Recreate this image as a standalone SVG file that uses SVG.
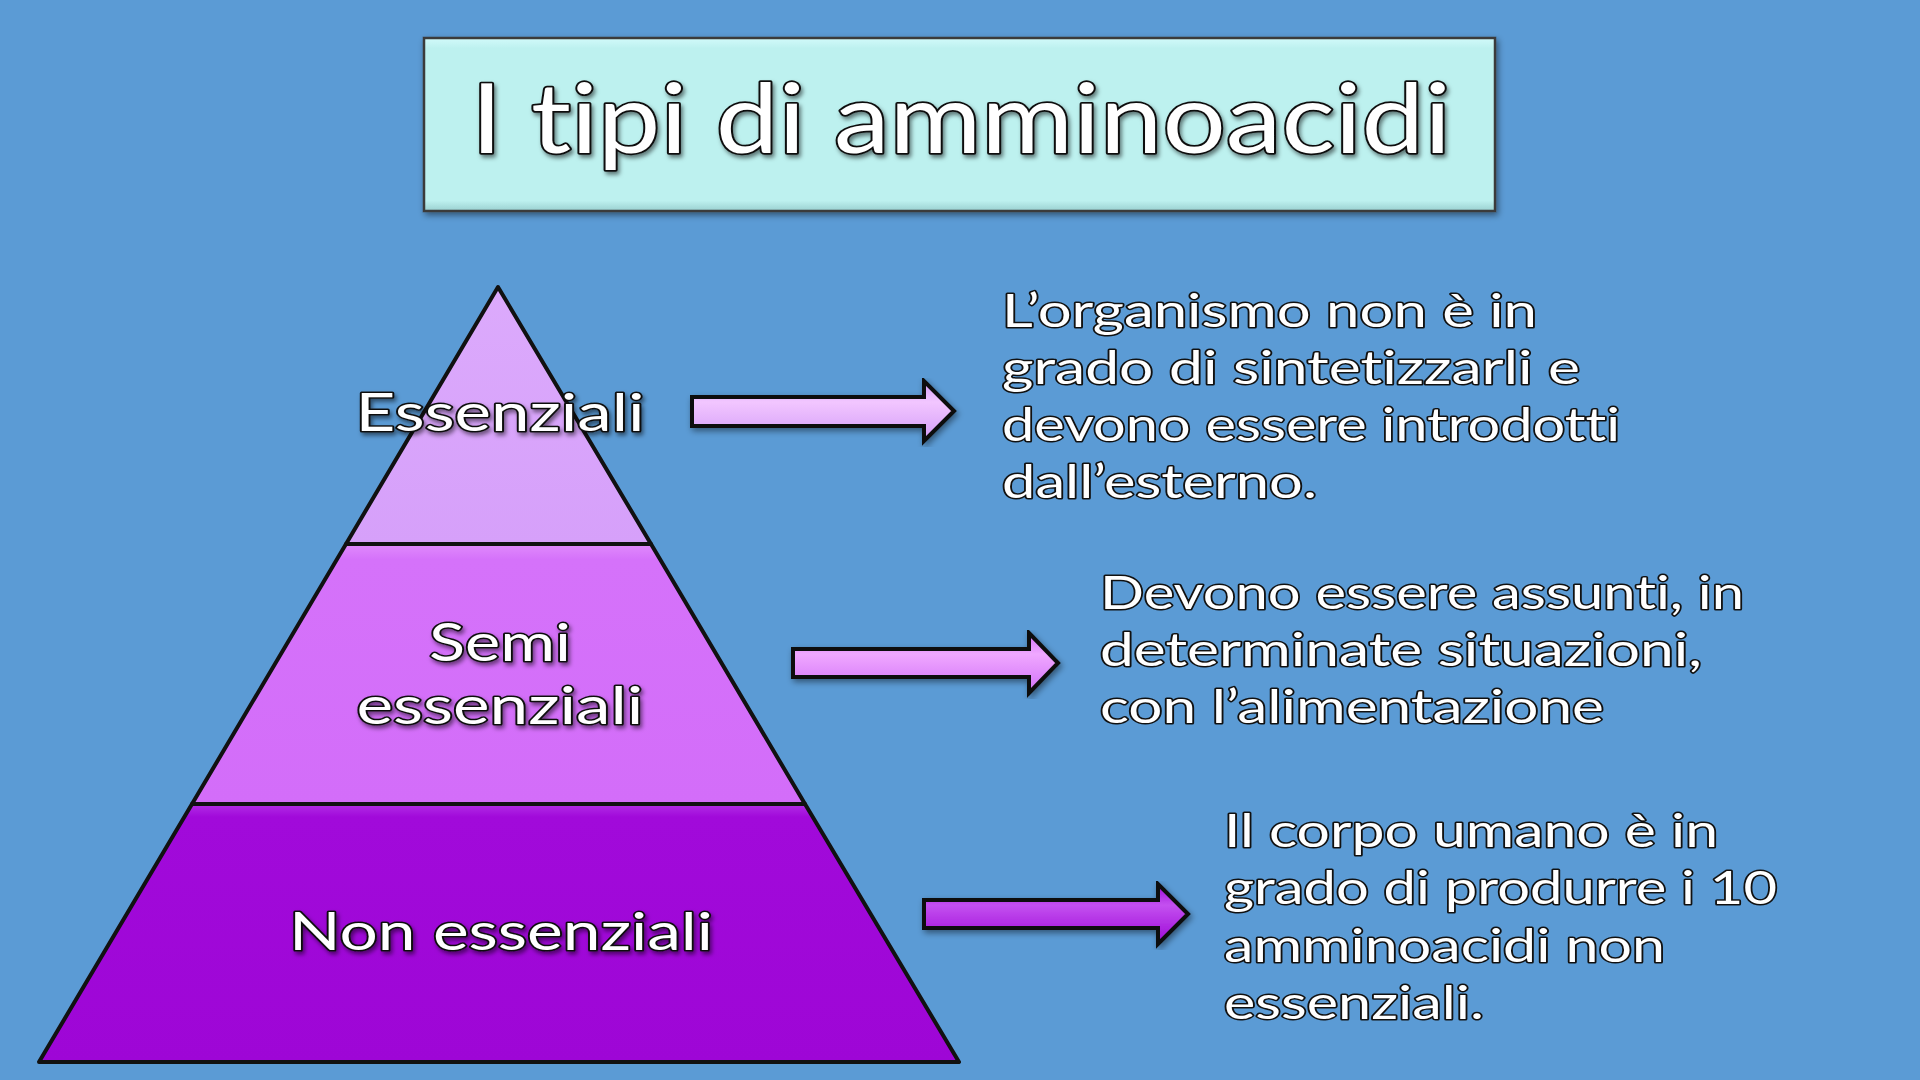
<svg xmlns="http://www.w3.org/2000/svg" width="1920" height="1080" viewBox="0 0 1920 1080">
<defs>
<filter id="sh" x="-10%" y="-10%" width="120%" height="130%">
<feDropShadow dx="2" dy="3" stdDeviation="2" flood-color="#000" flood-opacity="0.5"/>
</filter>
<filter id="bsh" x="-5%" y="-5%" width="110%" height="115%">
<feDropShadow dx="2" dy="3" stdDeviation="3" flood-color="#000" flood-opacity="0.45"/>
</filter>
<linearGradient id="gTop" x1="0" y1="0" x2="0" y2="1">
<stop offset="0" stop-color="#dcaafc"/><stop offset="1" stop-color="#d6a0fa"/>
</linearGradient>
<linearGradient id="gMid" x1="0" y1="0" x2="0" y2="1">
<stop offset="0" stop-color="#e08afc"/><stop offset="0.06" stop-color="#d572fa"/><stop offset="1" stop-color="#d36df9"/>
</linearGradient>
<linearGradient id="gBot" x1="0" y1="0" x2="0" y2="1">
<stop offset="0" stop-color="#b22ee6"/><stop offset="0.05" stop-color="#a10ada"/><stop offset="1" stop-color="#9e06d6"/>
</linearGradient>
<linearGradient id="gA1" x1="0" y1="0" x2="0" y2="1">
<stop offset="0" stop-color="#d39cf8"/><stop offset="0.35" stop-color="#f2c6ff"/><stop offset="1" stop-color="#d39cf8"/>
</linearGradient>
<linearGradient id="gA2" x1="0" y1="0" x2="0" y2="1">
<stop offset="0" stop-color="#d070f8"/><stop offset="0.35" stop-color="#f0a8ff"/><stop offset="1" stop-color="#d070f8"/>
</linearGradient>
<linearGradient id="gA3" x1="0" y1="0" x2="0" y2="1">
<stop offset="0" stop-color="#9c08d6"/><stop offset="0.35" stop-color="#c450f0"/><stop offset="1" stop-color="#9c08d6"/>
</linearGradient>
<linearGradient id="gTitle" x1="0" y1="0" x2="0" y2="1">
<stop offset="0" stop-color="#d2fafa"/><stop offset="0.06" stop-color="#bdf1ef"/><stop offset="0.94" stop-color="#bdf1ef"/><stop offset="1" stop-color="#9ad0d0"/>
</linearGradient>
</defs>
<style>
text{font-variant-ligatures:none;font-feature-settings:"liga" 0,"dlig" 0}
.lbl{font-family:"Lato","Open Sans",sans-serif;fill:#fff;stroke:#111;stroke-width:3;paint-order:stroke;stroke-linejoin:round}
.big{font-size:52px;text-anchor:middle}
.body{font-size:47px}
.title{font-family:"Lato","Open Sans",sans-serif;font-size:96px;fill:#fff;stroke:#111;stroke-width:3.5;paint-order:stroke;stroke-linejoin:round}
.tier{stroke:#111;stroke-width:4;stroke-linejoin:round}
.arrow{stroke:#111;stroke-width:4;stroke-linejoin:miter}
</style>
<rect x="0" y="0" width="1920" height="1080" fill="#5b9bd5"/>

<g id="title">
<rect x="424" y="38" width="1071" height="173" fill="url(#gTitle)" stroke="#3a3a3a" stroke-width="2.5" filter="url(#bsh)"/>
<text class="title" x="471" y="153" textLength="980" lengthAdjust="spacingAndGlyphs" filter="url(#sh)">I tipi di amminoacidi</text>
</g>

<g id="pyramid">
<g id="tier-essenziali">
<polygon class="tier" points="498,287 651,544 346,544" fill="url(#gTop)"/>
<text class="lbl big" x="500" y="431" textLength="289" lengthAdjust="spacingAndGlyphs" filter="url(#sh)">Essenziali</text>
</g>
<g id="tier-semi">
<polygon class="tier" points="346,544 651,544 805,804 192,804" fill="url(#gMid)"/>
<text class="lbl big" x="500" y="661" textLength="142" lengthAdjust="spacingAndGlyphs" filter="url(#sh)">Semi</text>
<text class="lbl big" x="500" y="724" textLength="287" lengthAdjust="spacingAndGlyphs" filter="url(#sh)">essenziali</text>
</g>
<g id="tier-non">
<polygon class="tier" points="192,804 805,804 959,1062 39,1062" fill="url(#gBot)"/>
<text class="lbl big" x="501" y="950" textLength="424" lengthAdjust="spacingAndGlyphs" filter="url(#sh)">Non essenziali</text>
</g>
</g>

<g id="connectors">
<polygon class="arrow" points="692,397 924,397 924,381 954,411 924,441 924,426 692,426" fill="url(#gA1)" filter="url(#bsh)"/>
<polygon class="arrow" points="793,649 1029,649 1029,633 1058,663 1029,693 1029,677 793,677" fill="url(#gA2)" filter="url(#bsh)"/>
<polygon class="arrow" points="924,900 1158,900 1158,884 1188,914 1158,944 1158,928 924,928" fill="url(#gA3)" filter="url(#bsh)"/>
</g>

<g id="desc-essenziali">
<text class="lbl body" x="1002" y="327" textLength="535" lengthAdjust="spacingAndGlyphs">L’organismo non è in</text>
<text class="lbl body" x="1002" y="384" textLength="578" lengthAdjust="spacingAndGlyphs">grado di sintetizzarli e</text>
<text class="lbl body" x="1002" y="441" textLength="618" lengthAdjust="spacingAndGlyphs">devono essere introdotti</text>
<text class="lbl body" x="1002" y="498" textLength="315" lengthAdjust="spacingAndGlyphs">dall’esterno.</text>
</g>

<g id="desc-semi">
<text class="lbl body" x="1100" y="609" textLength="644" lengthAdjust="spacingAndGlyphs">Devono essere assunti, in</text>
<text class="lbl body" x="1100" y="666" textLength="602" lengthAdjust="spacingAndGlyphs">determinate situazioni,</text>
<text class="lbl body" x="1100" y="723" textLength="504" lengthAdjust="spacingAndGlyphs">con l’alimentazione</text>
</g>

<g id="desc-non">
<text class="lbl body" x="1224" y="847" textLength="494" lengthAdjust="spacingAndGlyphs">Il corpo umano è in</text>
<text class="lbl body" x="1224" y="904" textLength="553" lengthAdjust="spacingAndGlyphs">grado di produrre i 10</text>
<text class="lbl body" x="1224" y="962" textLength="441" lengthAdjust="spacingAndGlyphs">amminoacidi non</text>
<text class="lbl body" x="1224" y="1019" textLength="260" lengthAdjust="spacingAndGlyphs">essenziali.</text>
</g>
</svg>
